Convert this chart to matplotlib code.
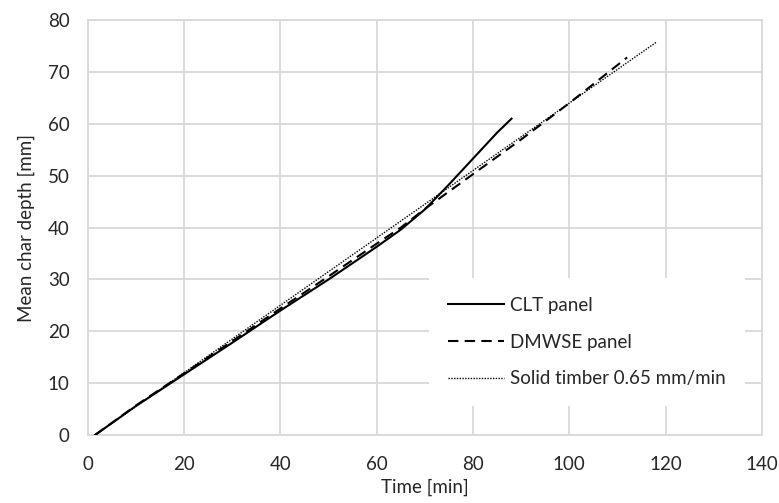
import numpy as np
import matplotlib.pyplot as plt

plt.rcParams['font.family'] = ['Lato', 'DejaVu Sans']

# data
clt_t = [1.5, 10, 20, 30, 40, 50, 60, 65, 70, 75, 80, 85, 88]
clt_d = [0.0, 5.6, 11.7, 17.8, 24.0, 30.0, 36.3, 39.6, 43.5, 48.3, 53.3, 58.3, 61.0]

dmwse_t = [1.5, 10, 20, 30, 40, 50, 60, 65, 70, 80, 90, 100, 112]
dmwse_d = [0.0, 5.7, 11.9, 18.1, 24.4, 30.6, 36.9, 40.0, 43.6, 50.3, 57.0, 64.0, 72.8]

solid_t = [1.5, 118]
solid_d = [0.0, 75.7]

grid_col = '#d9d9d9'
txt_col = '#262626'
fs = 13.5

fig = plt.figure(figsize=(7.79, 5.03), dpi=100)
ax = fig.add_axes([0.1126, 0.135, 0.8655, 0.825])

ax.plot(clt_t, clt_d, color='black', lw=1.5, label='CLT panel', zorder=3)
ax.plot(dmwse_t, dmwse_d, color='black', lw=1.5, dashes=(5, 3), label='DMWSE panel', zorder=3)
ax.plot(solid_t, solid_d, color='black', lw=1.0, dashes=(1, 1), label='Solid timber 0.65 mm/min', zorder=3)

ax.set_xlim(0, 140)
ax.set_ylim(0, 80)
ax.set_xticks(np.arange(0, 141, 20))
ax.set_yticks(np.arange(0, 81, 10))
ax.grid(True, color=grid_col, lw=1.3)
ax.set_axisbelow(True)
for s in ax.spines.values():
    s.set_color(grid_col)
    s.set_linewidth(1.3)
ax.tick_params(length=0, labelsize=fs, colors=txt_col)
ax.tick_params(axis='x', pad=15)
ax.tick_params(axis='y', pad=13)

ax.set_xlabel('Time [min]', fontsize=fs, color=txt_col, labelpad=4)
ax.set_ylabel('Mean char depth [mm]', fontsize=fs, color=txt_col, labelpad=9)

leg = ax.legend(loc='upper left', bbox_to_anchor=(0.506, 0.378), borderaxespad=0,
                frameon=True, fancybox=False, edgecolor='none', facecolor='white',
                framealpha=1, fontsize=fs, handlelength=3.0, handletextpad=0.35,
                labelspacing=1.05, borderpad=1.0)
for t in leg.get_texts():
    t.set_color(txt_col)

fig.savefig('out.png', dpi=100)
